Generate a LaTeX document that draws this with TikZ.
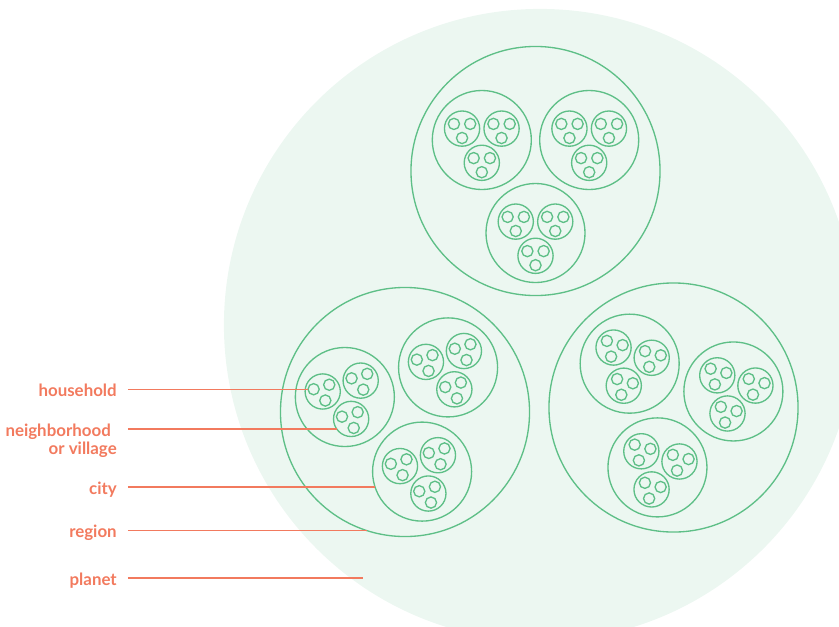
\documentclass[tikz,border=0pt]{standalone}
\usepackage{fontspec}
\setmainfont{Lato}
\usepackage{xcolor}
\usetikzlibrary{calc, positioning}

\definecolor{leaf}{HTML}{5EBF87}
\definecolor{mint}{HTML}{ECF7F1}
\definecolor{coral}{HTML}{F27A5E}

\tikzset{
  ring/.style={circle, draw=leaf, line width=0.95pt, inner sep=0pt, outer sep=0pt},
  region/.style={ring, minimum size=6.225cm},
  city/.style={ring, minimum size=2.475cm},
  nbhd/.style={ring, minimum size=0.88cm},
  house/.style={ring, minimum size=0.28cm},
  lbl/.style={text=coral, font=\bfseries\fontsize{12}{14}\selectfont, anchor=east,
    inner sep=0pt, text height=11pt, text depth=0.6pt},
  leader/.style={draw=coral, line width=1pt, shorten <=7.8pt}
}

\begin{document}
\begin{tikzpicture}[x=0.025cm, y=0.025cm]
    \useasboundingbox (0,0) rectangle (839,-626);
    \node[circle, fill=mint, inner sep=0pt, minimum size=15.8cm] (p) at (540,-325) {};

    % regions > cities > neighborhoods > households
    \foreach \rx/\ry/\rot [count=\i] in {535.5/-171/30, 405/-412/46, 673.5/-407.5/15} {
        \node[region] (r\i) at (\rx,\ry) {};
        \foreach \j in {1,2,3} {
            \node[city] (c\i\j) at ($(r\i)+({\rot+120*\j}:62)$) {};
            \foreach \k in {1,2,3} {
                \node[nbhd] (n\i\j\k) at ($(c\i\j)+({\rot+120*\k}:22.8)$) {};
                \foreach \l in {1,2,3}
                    \node[house] (h\i\j\k\l) at ($(n\i\j\k)+({\rot+120*\l}:9.4)$) {};
            }
        }
    }

    % labels
    \coordinate (lx) at (117,0);
    \coordinate (pe) at (363,-578);
    \node[lbl] (hhlbl) at (lx |- h2111.west) {household};
    \node[lbl] (nblbl) at (lx |- n212.215) {neighborhood\hspace*{0.35em}};
    \node[lbl, below=1.2pt of nblbl.south east, anchor=north east] (vilbl) {or village};
    \node[lbl] (ctlbl) at (lx |- c22.198) {city};
    \node[lbl] (rglbl) at (lx |- r2.252) {region};
    \node[lbl] (ptlbl) at (lx |- pe) {planet};

    \draw[leader] (hhlbl.east) -- (h2111.west);
    \draw[leader] (nblbl.east) -- (n212.215);
    \draw[leader] (ctlbl.east) -- (c22.198);
    \draw[leader] (rglbl.east) -- (r2.252);
    \draw[leader] (ptlbl.east) -- (pe);
\end{tikzpicture}
\end{document}
